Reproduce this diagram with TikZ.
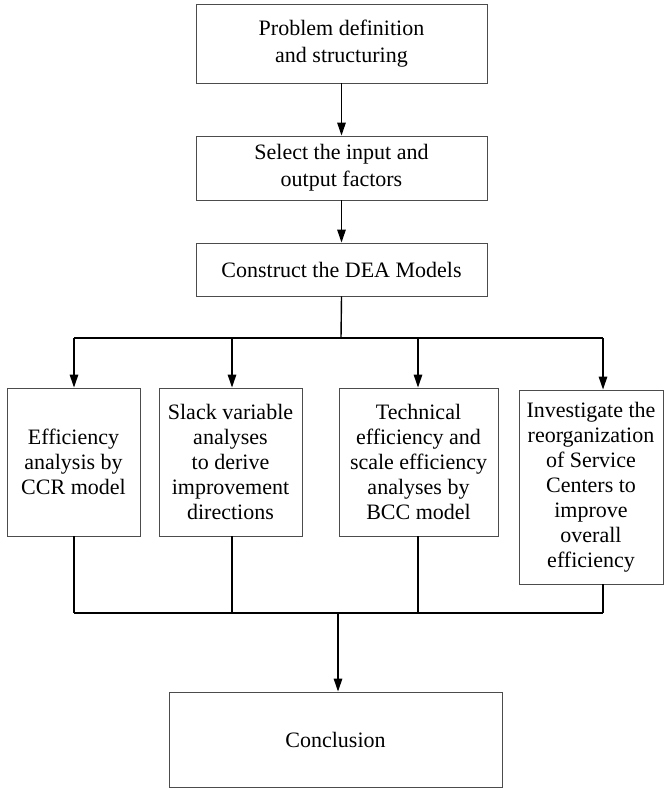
\documentclass[tikz,border=0pt]{standalone}
\usepackage{fontspec}
\setmainfont{Liberation Serif}
\usetikzlibrary{arrows.meta}
\begin{document}
\begin{tikzpicture}[x=1pt,y=-1pt,
  boxbase/.style={draw=black!70, line width=0.9pt, align=center, inner sep=0pt},
  topbox/.style={boxbase, font=\fontsize{22}{27}\selectfont, minimum width=291pt},
  lowbox/.style={boxbase, font=\fontsize{22}{25}\selectfont},
  conn/.style={draw=black, line width=1.4pt},
  arr/.style={conn, -{Triangle[length=13pt,width=8.5pt]}}
]
\useasboundingbox (0,0) rectangle (664,789);
\node[topbox, minimum height=79pt] (b1) at (341.5,43.5) {Problem definition\\and structuring};
\node[topbox, minimum height=64pt] (b2) at (341.5,168) {Select the input and\\output factors};
\node[topbox, minimum height=53pt] (b3) at (341.5,269.5) {Construct the DEA Models};
\node[lowbox, minimum width=133pt, minimum height=148pt] (b4) at (73.5,462) {Efficiency\\analysis by\\CCR model};
\node[lowbox, minimum width=143pt, minimum height=148pt] (b5) at (230.5,462) {Slack variable\\analyses\\to derive\\improvement\\directions};
\node[lowbox, minimum width=159pt, minimum height=148pt] (b6) at (418.5,462) {Technical\\efficiency and\\scale efficiency\\analyses by\\BCC model};
\node[lowbox, minimum width=144pt, minimum height=194pt] (b7) at (591,487) {Investigate the\\reorganization\\of Service\\Centers to\\improve\\overall\\efficiency};
\node[topbox, minimum width=333pt, minimum height=95pt, font=\fontsize{22}{25}\selectfont] (b8) at (335.5,739.5) {Conclusion};
% top junctions
\coordinate (t4) at (74,338);
\coordinate (t5) at (232,338);
\coordinate (t6) at (418,338);
\coordinate (t7) at (603,338);
\coordinate (tc) at (341,338);
% bottom junctions
\coordinate (u4) at (74,613);
\coordinate (u5) at (232,613);
\coordinate (u6) at (418,613);
\coordinate (u7) at (603,613);
\coordinate (uc) at (338,613);
\draw[arr] (b1.south) -- (b2.north);
\draw[arr] (b2.south) -- (b3.north);
\draw[conn] (b3.south) -- (tc);
\draw[conn] (t4) -- (t7);
\draw[arr] (t4) -- (t4 |- b4.north);
\draw[arr] (t5) -- (t5 |- b5.north);
\draw[arr] (t6) -- (t6 |- b6.north);
\draw[arr] (t7) -- (t7 |- b7.north);
\draw[conn] (u4 |- b4.south) -- (u4);
\draw[conn] (u5 |- b5.south) -- (u5);
\draw[conn] (u6 |- b6.south) -- (u6);
\draw[conn] (u7 |- b7.south) -- (u7);
\draw[conn] (u4) -- (u7);
\draw[arr] (uc) -- (uc |- b8.north);
\end{tikzpicture}
\end{document}
